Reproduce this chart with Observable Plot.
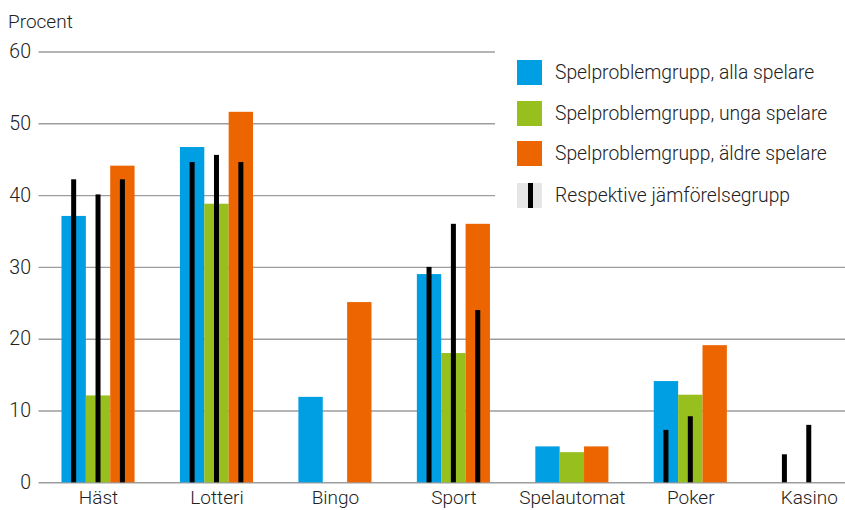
<!DOCTYPE html>
<html>
<head>
<meta charset="utf-8">
<script src="https://cdn.jsdelivr.net/npm/d3@7"></script>
<script src="https://cdn.jsdelivr.net/npm/@observablehq/plot@0.6"></script>
<style>
  html, body { margin: 0; padding: 0; background: #fff; }
  body { font-family: Roboto, "Noto Sans", sans-serif; font-weight: 300; color: #222; }
  #wrap { position: relative; width: 845px; height: 510px; overflow: hidden; }
  #ylabel { position: absolute; left: 8px; top: 12px; font-size: 19px; line-height: 19px; color: #222; }
  #legend { position: absolute; left: 495px; top: 40px; width: 350px; height: 175px; background: #fff; }
  .item { position: absolute; left: 22px; display: flex; align-items: center; height: 25px; font-size: 19.3px; color: #222; white-space: nowrap; }
  .sw { width: 25px; height: 25px; margin-right: 13px; position: relative; }
  .sw .bar { position: absolute; left: 10.5px; top: 0; width: 5px; height: 25px; background: #000; }
  svg text { font-weight: 300; }
</style>
</head>
<body>
<div id="wrap">
  <div id="chart"></div>
  <div id="ylabel"></div>
  <div id="legend"></div>
</div>
<script>
// ---- data ----
const categories = ["Häst", "Lotteri", "Bingo", "Sport", "Spelautomat", "Poker", "Kasino"];
const seriesNames = ["Spelproblemgrupp, alla spelare", "Spelproblemgrupp, unga spelare", "Spelproblemgrupp, äldre spelare"];
const comparisonName = "Respektive jämförelsegrupp";
const yLabel = "Procent";
const yTicks = [0, 10, 20, 30, 40, 50, 60];

const allaSpelare  = [37.1, 46.7, 11.9, 29.0, 5.0, 14.1, null];
const ungaSpelare  = [12.1, 38.8, null, 18.0, 4.2, 12.2, null];
const aldreSpelare = [44.1, 51.6, 25.1, 36.0, 5.0, 19.1, null];

const jmfAlla  = [42.2, 44.6, null, 30.0, null, 7.3, 3.9];
const jmfUnga  = [40.1, 45.6, null, 36.0, null, 9.2, 8.0];
const jmfAldre = [42.2, 44.6, null, 24.0, null, null, null];

const colors = ["#009fe3", "#97bf1d", "#ec6500"];

// ---- tables ----
const groupValues = [allaSpelare, ungaSpelare, aldreSpelare];
const compValues = [jmfAlla, jmfUnga, jmfAldre];
const bars = [];
const comps = [];
groupValues.forEach((vals, k) => vals.forEach((v, i) => { if (v != null) bars.push({kategori: categories[i], serie: seriesNames[k], k, varde: v}); }));
compValues.forEach((vals, k) => vals.forEach((v, i) => { if (v != null) comps.push({kategori: categories[i], k, varde: v}); }));

// ---- layout ----
const W = 845, H = 510;
const x0 = 38.8, x1 = 868;
const pad = 0.383;
const step = (x1 - x0) / categories.length;
const bw = step * (1 - pad);
const third = bw / 3;
const lineW = 5;

const marks = [
  Plot.ruleY(yTicks, {stroke: "#9d9d9d", strokeWidth: 1.4}),
];
for (let k = 0; k < 3; k++) {
  marks.push(Plot.barY(bars.filter(d => d.k === k), {
    x: "kategori", y: "varde", fill: "serie",
    insetLeft: k * third, insetRight: (2 - k) * third
  }));
}
for (let k = 0; k < 3; k++) {
  const c = (k + 0.5) * third;
  marks.push(Plot.barY(comps.filter(d => d.k === k), {
    x: "kategori", y: "varde", fill: "#000",
    insetLeft: c - lineW / 2, insetRight: bw - c - lineW / 2
  }));
}
marks.push(Plot.axisY(yTicks, {tickSize: 0, tickPadding: 8, fontSize: 19.5, fill: "#222", label: null}));
marks.push(Plot.axisX({tickSize: 0, tickPadding: 8, fontSize: 19, fill: "#222", label: null}));

const chart = Plot.plot({
  width: W,
  height: H,
  marginLeft: 38.5,
  marginRight: 0,
  marginTop: 51.5,
  marginBottom: 27.7,
  style: {fontFamily: "Roboto, 'Noto Sans', sans-serif", background: "#fff", overflow: "visible"},
  x: {type: "band", domain: categories, range: [x0, x1], paddingInner: pad, paddingOuter: pad / 2, round: false, label: null},
  y: {domain: [0, 60], label: null},
  color: {domain: seriesNames, range: colors},
  marks
});
document.getElementById("chart").appendChild(chart);
document.getElementById("ylabel").textContent = yLabel;

// ---- legend ----
const legend = document.getElementById("legend");
const tops = [20, 61, 101, 143];
seriesNames.forEach((name, k) => {
  const it = document.createElement("div");
  it.className = "item";
  it.style.top = tops[k] + "px";
  it.innerHTML = `<div class="sw" style="background:${colors[k]}"></div><span></span>`;
  it.querySelector("span").textContent = name;
  legend.appendChild(it);
});
{
  const it = document.createElement("div");
  it.className = "item";
  it.style.top = tops[3] + "px";
  it.innerHTML = `<div class="sw" style="background:#e6e6e6"><div class="bar"></div></div><span></span>`;
  it.querySelector("span").textContent = comparisonName;
  legend.appendChild(it);
}
</script>
</body>
</html>
